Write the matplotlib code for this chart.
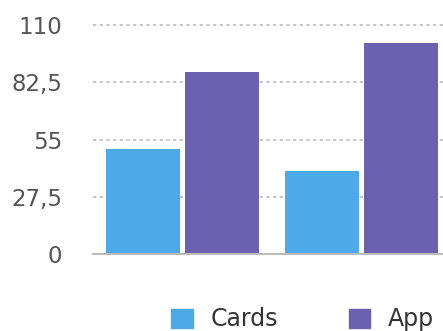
import numpy as np
import matplotlib
matplotlib.use('Agg')
import matplotlib.pyplot as plt
from matplotlib.patches import Patch

# Datos del grafico
grupos = ['G1', 'G2']
cards = [50.5, 40]
app = [87.5, 101.5]
series = ['Cards', 'App']
colores = ['#4DA9E7', '#6C61AF']
yticks = [0, 27.5, 55, 82.5, 110]
ytick_labels = ['0', '27,5', '55', '82,5', '110']

plt.rcParams['font.family'] = ['DejaVu Sans']

fig = plt.figure(figsize=(4.43, 3.31), dpi=100)
ax = fig.add_axes([93 / 443, 1 - 254.3 / 331, 358 / 443, (254.3 - 25) / 331])

x = np.arange(len(grupos))
ancho = 0.41
ax.bar(x - 0.22, cards, ancho, color=colores[0], zorder=3)
ax.bar(x + 0.22, app, ancho, color=colores[1], zorder=3)

ax.set_xlim(-0.5, 1.5)
ax.set_ylim(0, 110)
ax.set_yticks(yticks)
ax.set_yticklabels(ytick_labels, fontsize=16.5, color='#555555')
ax.set_xticks([])
ax.tick_params(axis='y', length=0, pad=22)

for s in ['top', 'right', 'left']:
    ax.spines[s].set_visible(False)
ax.spines['bottom'].set_color('#bbbbbb')
ax.spines['bottom'].set_linewidth(1.5)
ax.spines['bottom'].set_zorder(4)

ax.yaxis.grid(True, color='#bbbbbb', linestyle=(0, (2, 2)), linewidth=1.2, zorder=0)
for gl in ax.yaxis.get_gridlines():
    gl.set_clip_on(False)

handles = [Patch(color=c) for c in colores]
fig.legend(handles, series, loc='lower left', bbox_to_anchor=(162 / 443, -0.03),
           ncol=2, frameon=False, fontsize=17, handlelength=0.9, handleheight=0.9,
           handletextpad=0.75, columnspacing=3.0, labelcolor='#333333',
           borderaxespad=0)

fig.savefig('out.png', dpi=100)
